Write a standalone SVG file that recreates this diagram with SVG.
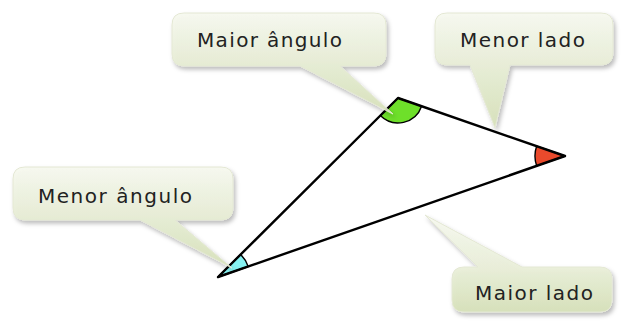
<svg xmlns="http://www.w3.org/2000/svg" width="621" height="321" viewBox="0 0 621 321">
  <defs>
    <linearGradient id="calloutFill" x1="0" y1="0" x2="0" y2="1">
      <stop offset="0" stop-color="#f7f9f0"/>
      <stop offset="1" stop-color="#d6e1b8"/>
    </linearGradient>
    <linearGradient id="calloutFillUp" x1="0" y1="1" x2="0" y2="0">
      <stop offset="0" stop-color="#d6e1b8"/>
      <stop offset="0.45" stop-color="#e9efd8"/>
      <stop offset="1" stop-color="#f7f9f0"/>
    </linearGradient>
    <filter id="softShadow" x="-10%" y="-10%" width="125%" height="135%">
      <feDropShadow dx="2" dy="3" stdDeviation="2" flood-color="#000" flood-opacity="0.28"/>
    </filter>
  </defs>
  <style>
    .edge { fill: none; stroke: #000; stroke-width: 2.4; stroke-linecap: round; stroke-linejoin: round; }
    .angle { stroke: #000; stroke-width: 1.4; stroke-linejoin: round; }
    .callout { fill: url(#calloutFill); stroke: #e4e8d4; stroke-width: 1; fill-opacity: 0.92; filter: url(#softShadow); }
    .callout-up { fill: url(#calloutFillUp); stroke: #e4e8d4; stroke-width: 1; fill-opacity: 0.92; filter: url(#softShadow); }
    .label { font-family: "DejaVu Sans", "Liberation Sans", sans-serif; font-size: 20px; fill: #222; }
  </style>

  <rect width="621" height="321" fill="#ffffff"/>

  <!-- triangle: angle marks and sides -->
  <g id="triangle">
    <path class="angle" fill="#6ee02a" d="M398 98 L380.3 115.6 A25 25 0 0 0 421.6 106.2 Z"/>
    <path class="angle" fill="#ea4a2c" d="M565 156 L536.6 146.2 A30 30 0 0 0 536.7 165.9 Z"/>
    <path class="angle" fill="#86f2f2" d="M218 277 L240.7 254.4 A32 32 0 0 1 248.2 266.5 Z"/>
    <g id="connectors">
      <path class="edge" d="M398 98 L565 156 L218 277 Z"/>
    </g>
  </g>

  <!-- callout: largest angle -->
  <g id="callout-maior-angulo">
    <path class="callout" d="M184 13 H374 Q386 13 386 25 V54 Q386 66 374 66 H340 L393 114 L300 66 H184 Q172 66 172 54 V25 Q172 13 184 13 Z"/>
    <text class="label" x="197" y="47" textLength="145" lengthAdjust="spacing">Maior ângulo</text>
  </g>

  <!-- callout: shortest side -->
  <g id="callout-menor-lado">
    <path class="callout" d="M447 13 H601 Q613 13 613 25 V53 Q613 65 601 65 H510 L495 128 L470 65 H447 Q435 65 435 53 V25 Q435 13 447 13 Z"/>
    <text class="label" x="460" y="47" textLength="125" lengthAdjust="spacing">Menor lado</text>
  </g>

  <!-- callout: smallest angle -->
  <g id="callout-menor-angulo">
    <path class="callout" d="M25 167 H221 Q233 167 233 179 V208 Q233 220 221 220 H175 L232 268 L140 220 H25 Q13 220 13 208 V179 Q13 167 25 167 Z"/>
    <text class="label" x="38" y="203" textLength="154" lengthAdjust="spacing">Menor ângulo</text>
  </g>

  <!-- callout: longest side -->
  <g id="callout-maior-lado">
    <path class="callout-up" d="M464 267 H478 L425 215 L522 267 H600 Q612 267 612 279 V300 Q612 312 600 312 H464 Q452 312 452 300 V279 Q452 267 464 267 Z"/>
    <text class="label" x="475" y="300" textLength="118" lengthAdjust="spacing">Maior lado</text>
  </g>
</svg>
